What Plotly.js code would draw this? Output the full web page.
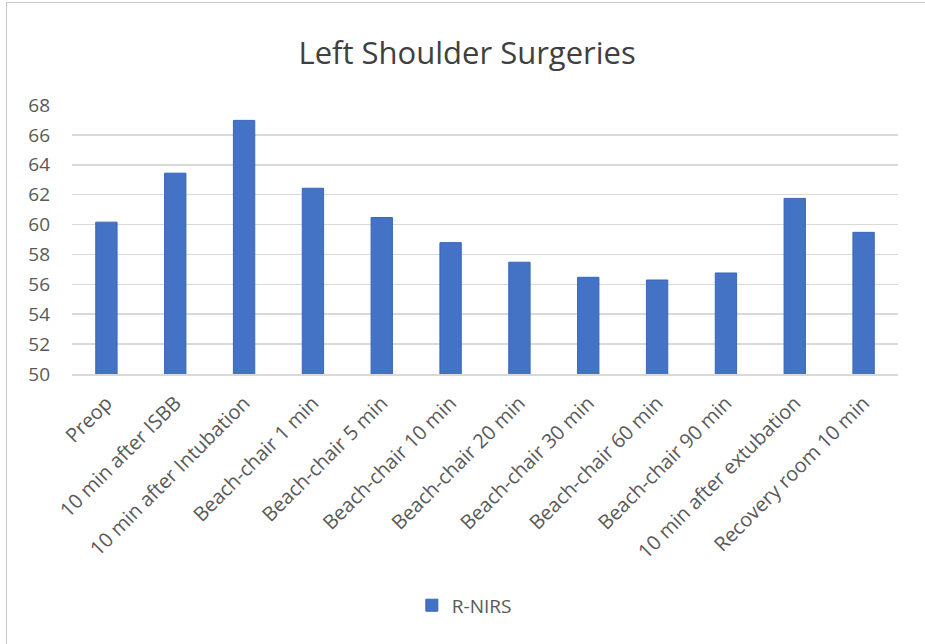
<!DOCTYPE html>
<html>
<head>
<meta charset="utf-8">
<script src="https://cdn.plot.ly/plotly-3.0.1.min.js"></script>
<style>
  html, body { margin: 0; padding: 0; background: #fff; }
  #wrap { position: relative; width: 925px; height: 644px; overflow: hidden; }
  #chart { position: absolute; left: 0; top: 0; width: 925px; height: 644px; }
  #frame { position: absolute; left: 6px; top: 2px; width: 940px; height: 660px; border: 1px solid #c8c8c8; pointer-events: none; }
</style>
</head>
<body>
<div id="wrap">
  <div id="chart"></div>
  <div id="frame"></div>
</div>
<script>
const categories = [
  "Preop",
  "10 min after ISBB",
  "10 min after Intubation",
  "Beach-chair 1 min",
  "Beach-chair 5 min",
  "Beach-chair 10 min",
  "Beach-chair 20 min",
  "Beach-chair 30 min",
  "Beach-chair 60 min",
  "Beach-chair 90 min",
  "10 min after extubation",
  "Recovery room 10 min"
];
const rNirs = [60.16, 63.44, 66.97, 62.43, 60.47, 58.79, 57.48, 56.47, 56.29, 56.76, 61.75, 59.48];
const yTicks = [50, 52, 54, 56, 58, 60, 62, 64, 66, 68];

const trace = {
  type: "bar",
  name: "R-NIRS",
  x: categories,
  y: rNirs,
  marker: { color: "#4472c4", line: { color: "#3a66b8", width: 1 } },
  hoverinfo: "x+y"
};

const FONT = "'Open Sans', 'Noto Sans', sans-serif";

const layout = {
  width: 925,
  height: 644,
  margin: { l: 72, r: 27, t: 105, b: 270, pad: 0 },
  paper_bgcolor: "#ffffff",
  plot_bgcolor: "#ffffff",
  font: { family: FONT, color: "#595959", size: 16 },
  title: {
    text: "Left Shoulder Surgeries",
    font: { family: FONT, size: 31, color: "#404040" },
    x: 0.505, xanchor: "center", y: 0.918, yanchor: "middle"
  },
  bargap: 0.69,
  xaxis: {
    type: "category",
    tickangle: -45,
    showgrid: false,
    showline: true,
    linecolor: "#d9d9d9",
    linewidth: 1.5,
    ticks: "",
    ticklabelstandoff: 8,
    tickfont: { size: 20, color: "#595959" },
    automargin: false
  },
  yaxis: {
    range: [50, 68],
    tickvals: yTicks,
    ticktext: yTicks.map(String),
    showgrid: true,
    gridcolor: "#d9d9d9",
    gridwidth: 1.5,
    zeroline: false,
    showline: false,
    ticks: "",
    ticklabelstandoff: 21,
    tickfont: { size: 19, color: "#595959" },
    automargin: false
  },
  showlegend: true,
  legend: {
    orientation: "h",
    x: 0.475, xanchor: "center",
    y: -0.86, yanchor: "middle",
    font: { size: 19, color: "#595959" },
    itemwidth: 30
  }
};

Plotly.newPlot("chart", [trace], layout, { displayModeBar: false, staticPlot: true });
</script>
</body>
</html>
